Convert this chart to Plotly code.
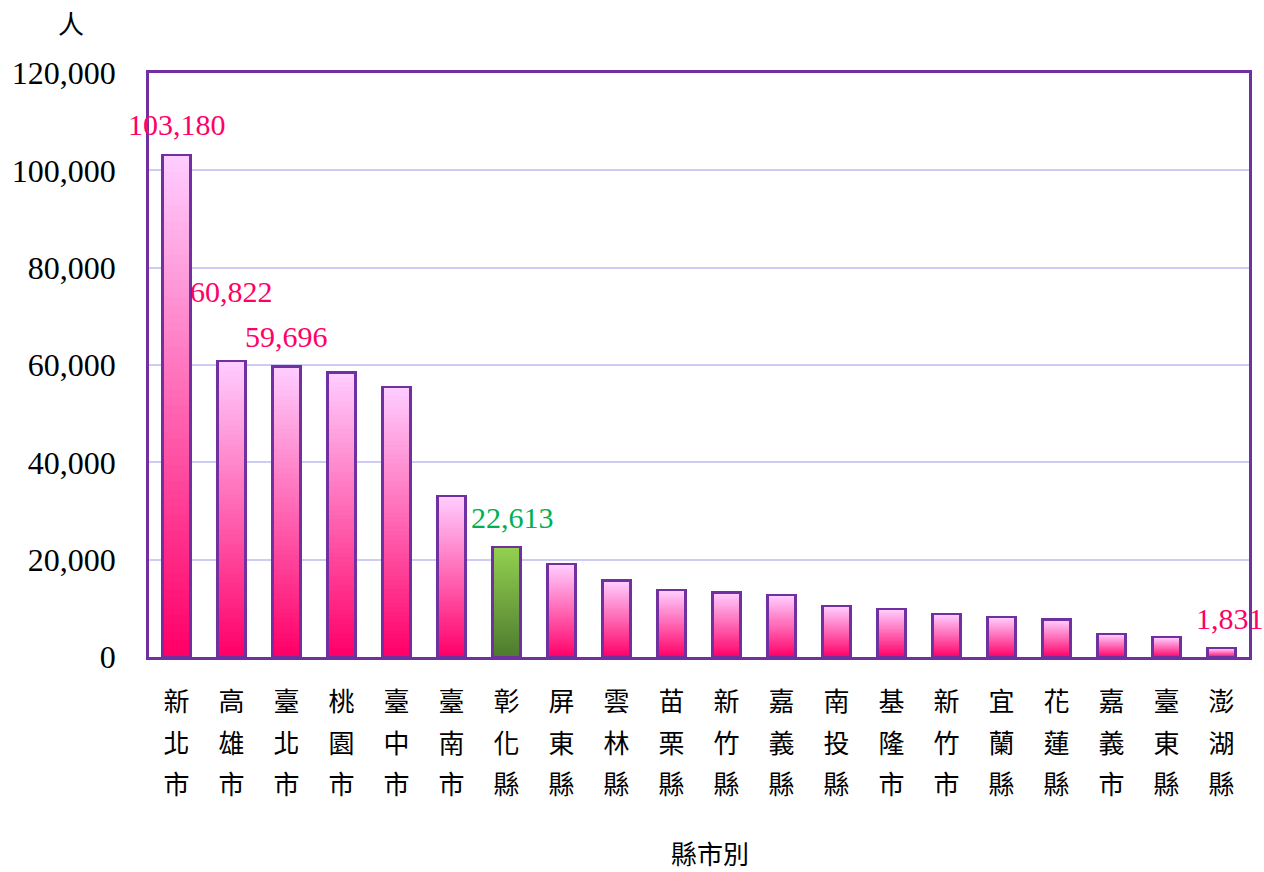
import plotly.graph_objects as go

categories = ["新北市", "高雄市", "臺北市", "桃園市", "臺中市", "臺南市", "彰化縣",
              "屏東縣", "雲林縣", "苗栗縣", "新竹縣", "嘉義縣", "南投縣", "基隆市",
              "新竹市", "宜蘭縣", "花蓮縣", "嘉義市", "臺東縣", "澎湖縣"]
values = [103180, 60822, 59696, 58500, 55500, 33100, 22613,
          19100, 15700, 13800, 13300, 12700, 10500, 9900,
          8850, 8250, 7700, 4750, 4100, 1831]
highlight_category = "彰化縣"
labeled_categories = ["新北市", "高雄市", "臺北市", "彰化縣", "澎湖縣"]
y_tickvals = [0, 20000, 40000, 60000, 80000, 100000, 120000]
y_ticktext = ["0", "20,000", "40,000", "60,000", "80,000", "100,000", "120,000"]
y_title = "人"
x_title = "縣市別"

PINK_TOP, PINK_BOTTOM = "#FFCCFF", "#FF0068"
GREEN_TOP, GREEN_BOTTOM = "#92D050", "#4E7B2E"
OUTLINE = "#7030A0"
SERIF = "Liberation Serif, Noto Sans CJK TC, serif"
CJK = "Noto Sans CJK TC, sans-serif"


def hex_to_rgb(h):
    h = h.lstrip("#")
    return [int(h[i:i + 2], 16) for i in (0, 2, 4)]


def lerp(c1, c2, t):
    a, b = hex_to_rgb(c1), hex_to_rgb(c2)
    return "rgb({},{},{})".format(*[round(a[i] + (b[i] - a[i]) * t) for i in range(3)])


N_SEG = 60
fig = go.Figure()
# gradient fill: each bar is split into N equal stacked slices
for k in range(N_SEG):
    t = k / (N_SEG - 1)  # 0 bottom -> 1 top
    colors = [lerp(GREEN_BOTTOM, GREEN_TOP, t) if c == highlight_category
              else lerp(PINK_BOTTOM, PINK_TOP, t) for c in categories]
    fig.add_trace(go.Bar(
        x=categories, y=[v / N_SEG for v in values],
        marker=dict(color=colors, line=dict(width=0)),
        showlegend=False, hoverinfo="skip",
    ))

# outline of each bar on an overlaying axis
fig.add_trace(go.Bar(
    x=categories, y=values, xaxis="x2",
    marker=dict(color="rgba(0,0,0,0)", line=dict(color=OUTLINE, width=2.5)),
    showlegend=False,
))

tick_text = ["<br>".join(f"<span style='font-size:26px'>{ch}</span>" for ch in c)
             for c in categories]

label_style = {
    "新北市": dict(color="#FF0066", yshift=30, xshift=0),
    "高雄市": dict(color="#FF0066", yshift=70, xshift=0),
    "臺北市": dict(color="#FF0066", yshift=30, xshift=0),
    "彰化縣": dict(color="#00B050", yshift=29, xshift=6),
    "澎湖縣": dict(color="#FF0066", yshift=30, xshift=8),
}
for c in labeled_categories:
    v = values[categories.index(c)]
    s = label_style[c]
    fig.add_annotation(x=c, y=v, text=f"{v:,}", showarrow=False,
                       yanchor="middle", yshift=s["yshift"], xshift=s["xshift"],
                       font=dict(family=SERIF, size=30, color=s["color"]))

fig.add_annotation(xref="paper", yref="paper", x=-0.071, y=1.0, yshift=51,
                   xanchor="center", yanchor="middle",
                   text=y_title, showarrow=False,
                   font=dict(family=CJK, size=26, color="black"))
fig.add_annotation(xref="paper", yref="paper", x=0.51, y=0, yshift=-195,
                   xanchor="center", yanchor="middle",
                   text=x_title, showarrow=False,
                   font=dict(family=CJK, size=26, color="black"))

n = len(categories)
fig.update_layout(
    width=1264, height=872,
    margin=dict(l=147, r=14, t=73, b=215),
    paper_bgcolor="white", plot_bgcolor="white",
    barmode="stack", bargap=0.49,
    xaxis=dict(
        tickmode="array", tickvals=categories, ticktext=tick_text,
        range=[-0.5, n - 0.5], autorange=False,
        tickfont=dict(family=CJK, size=32, color="black"),
        showline=True, linecolor=OUTLINE, linewidth=2.5, mirror=True,
        showgrid=False, ticks="", ticklabelstandoff=13, tickangle=0,
    ),
    xaxis2=dict(overlaying="x", range=[-0.5, n - 0.5], autorange=False,
                showticklabels=False, showgrid=False, showline=False, ticks=""),
    yaxis=dict(
        range=[0, 120000], tickmode="array", tickvals=y_tickvals, ticktext=y_ticktext,
        tickfont=dict(family=SERIF, size=32, color="black"),
        showline=True, linecolor=OUTLINE, linewidth=2.5, mirror=True,
        showgrid=True, gridcolor="#CCCCF5", gridwidth=2,
        zeroline=False, ticks="", ticklabelstandoff=24,
    ),
)

fig.write_html("out.html", config={"displayModeBar": False},
               post_script="document.body.style.margin='0';")
